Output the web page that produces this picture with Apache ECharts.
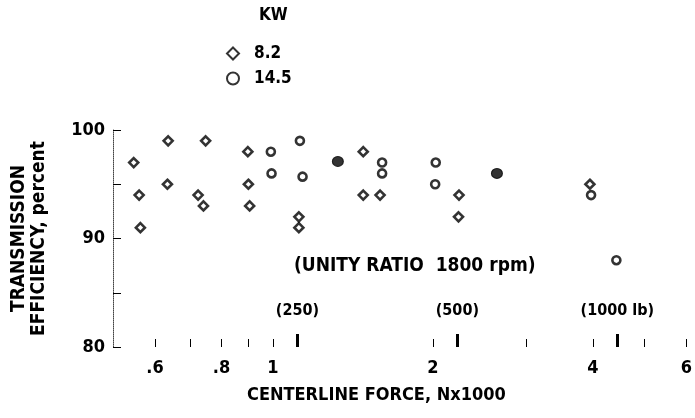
<!DOCTYPE html>
<html>
<head>
<meta charset="utf-8">
<script src="https://cdn.jsdelivr.net/npm/echarts@6/dist/echarts.min.js"></script>
<style>
  html, body { margin: 0; padding: 0; background: #fff; }
  #chart { width: 695px; height: 418px; }
</style>
</head>
<body>
<div id="chart"></div>
<script>
// Centerline force (N x 1000) vs transmission efficiency (percent)
const force82 = [0.547, 0.56, 0.563, 0.635, 0.633, 0.747, 0.723, 0.74, 0.897, 0.899, 0.904, 1.119, 1.119, 1.479, 1.479, 1.591, 2.24, 2.235, 3.95];
const eff82   = [97, 94, 91, 99, 95, 99, 94, 93, 98, 95, 93, 92, 91, 98, 94, 94, 94, 92, 95];

const force145 = [0.991, 0.994, 1.124, 1.137, 1.605, 1.605, 2.025, 2.02, 3.97, 4.43];
const eff145   = [98, 96, 99, 95.7, 97, 96, 97, 95, 94, 88];

// coincident readings of both power levels
const forceBoth = [1.325, 2.64];
const effBoth   = [97.1, 96];

const xLabelTicks = [0.6, 0.8, 1, 2, 4, 6];
const xMinorTicks = [0.6, 0.7, 0.8, 0.9, 1, 2, 3, 4, 5, 6];
const lbTicks = [250, 500, 1000];
const yLabels = [80, 90, 100];

const FONT = "'Liberation Sans Narrow', 'DejaVu Sans Condensed', 'Roboto Condensed', sans-serif";
const INK = '#000';

const lbToKN = lb => lb * 4.448222 / 1000;
const lbPos = lbTicks.map(lbToKN);
const lbText = {};
lbTicks.forEach((lb, i) => { lbText[lbPos[i].toFixed(4)] = i === lbTicks.length - 1 ? '(' + lb + ' lb)' : '(' + lb + ')'; });

const pairs = (xs, ys) => xs.map((x, i) => [x, ys[i]]);

const chart = echarts.init(document.getElementById('chart'), null, { renderer: 'canvas' });

const open = { color: '#fff', borderColor: INK, borderWidth: 2.6 };

chart.setOption({
  animation: false,
  backgroundColor: '#fff',
  grid: { left: 113, right: 8, top: 130, bottom: 71 },
  legend: {
    orient: 'vertical',
    left: 221,
    top: 40,
    itemGap: 8,
    itemWidth: 12,
    itemHeight: 12,
    data: ['8.2', '14.5'],
    textStyle: { fontFamily: FONT, fontWeight: 'bold', fontSize: 17, color: INK, padding: [0, 0, 0, 10] }
  },
  xAxis: [
    {
      type: 'log', logBase: 10, min: 0.5, max: 6,
      axisLine: { show: false },
      splitLine: { show: false },
      axisTick: { show: true, inside: true, length: 8, customValues: xMinorTicks, lineStyle: { color: INK, width: 1 } },
      minorTick: { show: false },
      axisLabel: {
        customValues: xLabelTicks,
        margin: 12,
        fontFamily: FONT, fontWeight: 'bold', fontSize: 18, color: INK,
        formatter: v => (v < 1 ? String(v).replace(/^0/, '') : String(v))
      }
    },
    {
      type: 'log', logBase: 10, min: 0.5, max: 6,
      position: 'bottom',
      axisLine: { show: false },
      splitLine: { show: false },
      axisTick: { show: true, inside: true, length: 13, customValues: lbPos, lineStyle: { color: INK, width: 3 } },
      axisLabel: {
        customValues: lbPos,
        inside: true,
        margin: 28,
        fontFamily: FONT, fontWeight: 'bold', fontSize: 16, color: INK,
        formatter: v => lbText[Number(v).toFixed(4)] || ''
      }
    }
  ],
  yAxis: {
    type: 'value', min: 80, max: 100, interval: 5,
    name: 'TRANSMISSION\nEFFICIENCY, percent',
    nameLocation: 'middle',
    nameRotate: 90,
    nameGap: 64,
    nameTextStyle: { fontFamily: FONT, fontWeight: 'bold', fontSize: 19, color: INK, lineHeight: 20 },
    axisLine: { show: true, lineStyle: { color: '#444', width: 1, type: 'dotted' } },
    axisTick: { show: true, inside: true, length: 8, lineStyle: { color: INK, width: 1 } },
    splitLine: { show: false },
    axisLabel: {
      margin: 8,
      fontFamily: FONT, fontWeight: 'bold', fontSize: 18, color: INK,
      formatter: v => (yLabels.indexOf(v) >= 0 ? String(v) : '')
    }
  },
  graphic: [
    {
      type: 'text', left: 259, top: 7,
      style: { text: 'KW', fontFamily: FONT, fontWeight: 'bold', fontSize: 17, fill: INK }
    },
    {
      type: 'text', left: 294, top: 257,
      style: { text: '(UNITY RATIO  1800 rpm)', fontFamily: FONT, fontWeight: 'bold', fontSize: 19, fill: INK }
    },
    {
      type: 'text', left: 247, top: 386,
      style: { text: 'CENTERLINE FORCE, Nx1000', fontFamily: FONT, fontWeight: 'bold', fontSize: 18, fill: INK }
    }
  ],
  series: [
    {
      name: '8.2', type: 'scatter', symbol: 'diamond', symbolSize: 9,
      itemStyle: open,
      data: pairs(force82, eff82)
    },
    {
      name: '14.5', type: 'scatter', symbol: 'circle', symbolSize: 8,
      itemStyle: open,
      data: pairs(force145, eff145)
    },
    {
      name: 'both', type: 'scatter', symbol: 'circle', symbolSize: [11, 10],
      itemStyle: { color: INK, borderColor: INK, borderWidth: 1 },
      data: pairs(forceBoth, effBoth)
    }
  ]
});
</script>
</body>
</html>
